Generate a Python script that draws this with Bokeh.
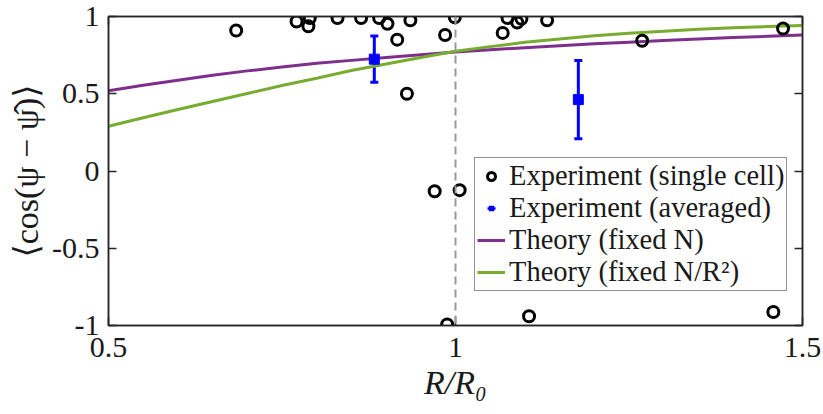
import numpy as np
from bokeh.plotting import figure
from bokeh.models import (Span, FixedTicker, LinearAxis, Legend, LegendItem,
                          Range1d, ColumnDataSource, Whisker, TeeHead)
from bokeh.embed import file_html
from bokeh.resources import INLINE

# ---- data ----
single_x = [0.684, 0.771, 0.790, 0.788, 0.830, 0.864, 0.890, 0.902, 0.916, 0.930,
            0.935, 0.985, 0.999, 1.068, 1.075, 1.089, 1.095, 1.132, 1.269, 1.472,
            0.970, 1.006, 0.988, 1.106, 1.458]
single_y = [0.909, 0.968, 0.990, 0.937, 0.990, 0.990, 0.990, 0.953, 0.850, 0.500,
            0.975, 0.880, 0.995, 0.894, 0.990, 0.961, 0.985, 0.975, 0.843, 0.922,
            -0.131, -0.124, -0.994, -0.940, -0.913]

avg_x = [0.883, 1.177]
avg_y = [0.724, 0.462]
avg_err = [0.149, 0.253]

theory_x = [0.50, 0.55, 0.60, 0.65, 0.70, 0.75, 0.80, 0.85, 0.90, 0.95, 1.00,
            1.05, 1.10, 1.15, 1.20, 1.25, 1.30, 1.35, 1.40, 1.45, 1.50]
theory_fixed_N = [0.520, 0.555, 0.588, 0.620, 0.648, 0.673, 0.697, 0.716, 0.735,
                  0.753, 0.770, 0.785, 0.798, 0.811, 0.823, 0.834, 0.845, 0.855,
                  0.864, 0.872, 0.880]
theory_fixed_density = [0.290, 0.345, 0.398, 0.450, 0.502, 0.553, 0.600, 0.650,
                        0.692, 0.735, 0.775, 0.805, 0.833, 0.855, 0.876, 0.892,
                        0.905, 0.917, 0.927, 0.935, 0.942]

x_ticks = [0.5, 1.0, 1.5]
x_tick_labels = ["0.5", "1", "1.5"]
y_ticks = [-1.0, -0.5, 0.0, 0.5, 1.0]
y_tick_labels = ["-1", "-0.5", "0", "0.5", "1"]

legend_labels = ["Experiment (single cell)", "Experiment (averaged)",
                 "Theory (fixed N)", "Theory (fixed N/R²)"]

FONT = "'Liberation Serif', 'DejaVu Serif', serif"
AX = "#262626"
TXT = "#1a1a1a"
PURPLE = "#7E2F8E"
GREEN = "#77AC30"
BLUE = "#0000FF"

W, H = 823, 414
p = figure(width=W, height=H, output_backend="svg", toolbar_location=None,
           x_range=Range1d(0.5, 1.5), y_range=Range1d(-1, 1),
           min_border_left=108, min_border_right=21, min_border_top=16,
           min_border_bottom=89)
p.grid.visible = False
p.outline_line_color = AX
p.outline_line_width = 1.5
p.background_fill_color = "white"
p.border_fill_color = "white"


def style_axis(ax, ticks, labels, show_labels=True):
    ax.ticker = FixedTicker(ticks=ticks)
    ax.major_label_overrides = {t: l for t, l in zip(ticks, labels)}
    ax.major_tick_in = 8
    ax.major_tick_out = 0
    ax.minor_tick_line_color = None
    ax.major_tick_line_color = AX
    ax.major_tick_line_width = 1.5
    ax.axis_line_color = AX
    ax.axis_line_width = 1.5
    ax.major_label_text_font = FONT
    ax.major_label_text_font_size = "30px"
    ax.major_label_text_color = TXT if show_labels else None


style_axis(p.xaxis[0], x_ticks, x_tick_labels)
style_axis(p.yaxis[0], y_ticks, y_tick_labels)
p.xaxis.major_label_standoff = 12
p.yaxis.major_label_standoff = 9

p.xaxis.axis_label = "R/R₀"
p.xaxis.axis_label_text_font = FONT
p.xaxis.axis_label_text_font_size = "34px"
p.xaxis.axis_label_text_font_style = "italic"
p.xaxis.axis_label_text_color = TXT
p.xaxis.axis_label_standoff = 4

p.yaxis.axis_label = "⟨cos(ψ − ψ̂)⟩"
p.yaxis.axis_label_text_font = FONT
p.yaxis.axis_label_text_font_size = "34px"
p.yaxis.axis_label_text_font_style = "normal"
p.yaxis.axis_label_text_color = TXT
p.yaxis.axis_label_standoff = 4

top_ax = LinearAxis()
right_ax = LinearAxis()
style_axis(top_ax, x_ticks, x_tick_labels, show_labels=False)
style_axis(right_ax, y_ticks, y_tick_labels, show_labels=False)
top_ax.major_label_text_font_size = "0px"
right_ax.major_label_text_font_size = "0px"
top_ax.major_label_standoff = 0
right_ax.major_label_standoff = 0
p.add_layout(top_ax, "above")
p.add_layout(right_ax, "right")

# dashed reference line at R/R0 = 1
p.add_layout(Span(location=1.0, dimension="height", line_color="#999999",
                  line_width=2, line_dash="8 5"))

# theory lines
r_N = p.line(theory_x, theory_fixed_N, line_color=PURPLE, line_width=3)
r_D = p.line(theory_x, theory_fixed_density, line_color=GREEN, line_width=3)

# single cell points
r_single = p.scatter(single_x, single_y, marker="circle", size=11,
                     fill_color=None, line_color="black", line_width=3)

# averaged with error bars
src = ColumnDataSource(dict(x=avg_x, y=avg_y,
                            lo=[y - e for y, e in zip(avg_y, avg_err)],
                            hi=[y + e for y, e in zip(avg_y, avg_err)]))
p.add_layout(Whisker(source=src, base="x", lower="lo", upper="hi",
                     line_color=BLUE, line_width=3,
                     lower_head=TeeHead(size=8, line_color=BLUE, line_width=3),
                     upper_head=TeeHead(size=8, line_color=BLUE, line_width=3)))
r_avg = p.scatter("x", "y", source=src, marker="square", size=10,
                  fill_color=BLUE, line_color=BLUE, line_width=1)
# legend-only glyphs for the averaged entry (no data drawn in the plot)
r_avg_sq = p.scatter(x=[np.nan], y=[np.nan], marker="square", size=10,
                     fill_color=BLUE, line_color="white", line_width=2.5)
r_avg_bar = p.scatter(x=[np.nan], y=[np.nan], marker="dash", angle=np.pi / 2,
                      size=10, line_color=BLUE, line_width=2.5)

legend = Legend(items=[
    LegendItem(label=legend_labels[0], renderers=[r_single]),
    LegendItem(label=legend_labels[1], renderers=[r_avg_sq, r_avg_bar]),
    LegendItem(label=legend_labels[2], renderers=[r_N]),
    LegendItem(label=legend_labels[3], renderers=[r_D]),
], location=(366, 34))
legend.label_text_font = FONT
legend.label_text_font_size = "28.5px"
legend.label_text_color = TXT
legend.label_height = 30
legend.label_standoff = 4
legend.glyph_width = 28
legend.glyph_height = 20
legend.spacing = 0
legend.padding = 2
legend.margin = 0
legend.border_line_color = AX
legend.border_line_width = 1.5
legend.background_fill_alpha = 1.0
p.add_layout(legend)

open("out.html", "w").write(file_html(p, INLINE))
